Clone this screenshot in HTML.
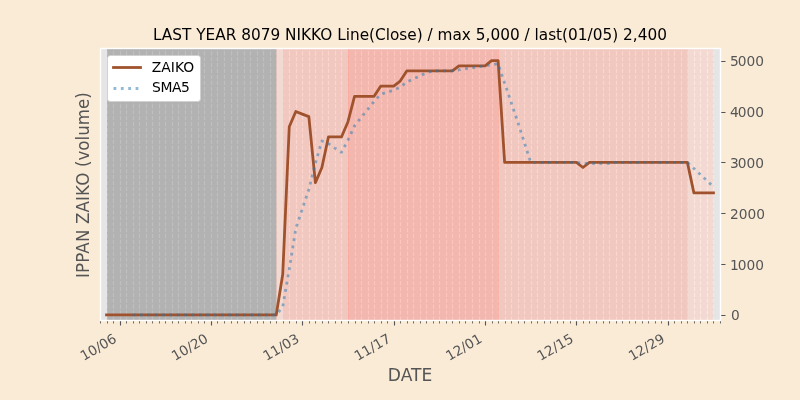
<!DOCTYPE html>
<html lang="en"><head><meta charset="utf-8"><title>LAST YEAR 8079 NIKKO</title>
<style>html,body{margin:0;padding:0;background:#FAEBD7;overflow:hidden}body{width:800px;height:400px}</style></head>
<body>
<svg width="800" height="400" viewBox="0 0 800 400" style="display:block;font-family:'DejaVu Sans','Liberation Sans',sans-serif">
<rect width="800" height="400" fill="#FAEBD7"/>
<rect x="100" y="48" width="620" height="272" fill="#E5E5E5"/>
<path d="M100.5 320.5v3M107.5 320.5v3M113.5 320.5v3M126.5 320.5v3M133.5 320.5v3M139.5 320.5v3M146.5 320.5v3M152.5 320.5v3M159.5 320.5v3M165.5 320.5v3M172.5 320.5v3M178.5 320.5v3M185.5 320.5v3M191.5 320.5v3M198.5 320.5v3M204.5 320.5v3M217.5 320.5v3M224.5 320.5v3M231.5 320.5v3M237.5 320.5v3M244.5 320.5v3M250.5 320.5v3M257.5 320.5v3M263.5 320.5v3M270.5 320.5v3M276.5 320.5v3M283.5 320.5v3M289.5 320.5v3M296.5 320.5v3M309.5 320.5v3M315.5 320.5v3M322.5 320.5v3M328.5 320.5v3M335.5 320.5v3M341.5 320.5v3M348.5 320.5v3M355.5 320.5v3M361.5 320.5v3M368.5 320.5v3M374.5 320.5v3M381.5 320.5v3M387.5 320.5v3M400.5 320.5v3M407.5 320.5v3M413.5 320.5v3M420.5 320.5v3M426.5 320.5v3M433.5 320.5v3M439.5 320.5v3M446.5 320.5v3M452.5 320.5v3M459.5 320.5v3M465.5 320.5v3M472.5 320.5v3M479.5 320.5v3M492.5 320.5v3M498.5 320.5v3M505.5 320.5v3M511.5 320.5v3M518.5 320.5v3M524.5 320.5v3M531.5 320.5v3M537.5 320.5v3M544.5 320.5v3M550.5 320.5v3M557.5 320.5v3M563.5 320.5v3M570.5 320.5v3M583.5 320.5v3M589.5 320.5v3M596.5 320.5v3M603.5 320.5v3M609.5 320.5v3M616.5 320.5v3M622.5 320.5v3M629.5 320.5v3M635.5 320.5v3M642.5 320.5v3M648.5 320.5v3M655.5 320.5v3M661.5 320.5v3M674.5 320.5v3M681.5 320.5v3M687.5 320.5v3M694.5 320.5v3M700.5 320.5v3M707.5 320.5v3M713.5 320.5v3M720.5 320.5v3" stroke="#555555" stroke-width="0.83" fill="none"/>
<path d="M120.5 320.5v5M211.5 320.5v5M302.5 320.5v5M394.5 320.5v5M485.5 320.5v5M576.5 320.5v5M668.5 320.5v5" stroke="#555555" stroke-width="1.11" fill="none"/>
<path d="M720.5 315.5h5M720.5 264.5h5M720.5 213.5h5M720.5 162.5h5M720.5 112.5h5M720.5 61.5h5" stroke="#555555" stroke-width="1.11" fill="none"/>
<path d="M100.5 320.5V48.5M107.5 320.5V48.5M113.5 320.5V48.5M120.5 320.5V48.5M126.5 320.5V48.5M133.5 320.5V48.5M139.5 320.5V48.5M146.5 320.5V48.5M152.5 320.5V48.5M159.5 320.5V48.5M165.5 320.5V48.5M172.5 320.5V48.5M178.5 320.5V48.5M185.5 320.5V48.5M191.5 320.5V48.5M198.5 320.5V48.5M204.5 320.5V48.5M211.5 320.5V48.5M217.5 320.5V48.5M224.5 320.5V48.5M231.5 320.5V48.5M237.5 320.5V48.5M244.5 320.5V48.5M250.5 320.5V48.5M257.5 320.5V48.5M263.5 320.5V48.5M270.5 320.5V48.5M276.5 320.5V48.5M283.5 320.5V48.5M289.5 320.5V48.5M296.5 320.5V48.5M302.5 320.5V48.5M309.5 320.5V48.5M315.5 320.5V48.5M322.5 320.5V48.5M328.5 320.5V48.5M335.5 320.5V48.5M341.5 320.5V48.5M348.5 320.5V48.5M355.5 320.5V48.5M361.5 320.5V48.5M368.5 320.5V48.5M374.5 320.5V48.5M381.5 320.5V48.5M387.5 320.5V48.5M394.5 320.5V48.5M400.5 320.5V48.5M407.5 320.5V48.5M413.5 320.5V48.5M420.5 320.5V48.5M426.5 320.5V48.5M433.5 320.5V48.5M439.5 320.5V48.5M446.5 320.5V48.5M452.5 320.5V48.5M459.5 320.5V48.5M465.5 320.5V48.5M472.5 320.5V48.5M479.5 320.5V48.5M485.5 320.5V48.5M492.5 320.5V48.5M498.5 320.5V48.5M505.5 320.5V48.5M511.5 320.5V48.5M518.5 320.5V48.5M524.5 320.5V48.5M531.5 320.5V48.5M537.5 320.5V48.5M544.5 320.5V48.5M550.5 320.5V48.5M557.5 320.5V48.5M563.5 320.5V48.5M570.5 320.5V48.5M576.5 320.5V48.5M583.5 320.5V48.5M589.5 320.5V48.5M596.5 320.5V48.5M603.5 320.5V48.5M609.5 320.5V48.5M616.5 320.5V48.5M622.5 320.5V48.5M629.5 320.5V48.5M635.5 320.5V48.5M642.5 320.5V48.5M648.5 320.5V48.5M655.5 320.5V48.5M661.5 320.5V48.5M668.5 320.5V48.5M674.5 320.5V48.5M681.5 320.5V48.5M687.5 320.5V48.5M694.5 320.5V48.5M700.5 320.5V48.5M707.5 320.5V48.5M713.5 320.5V48.5M720.5 320.5V48.5" stroke="#fff" stroke-width="1.11" stroke-dasharray="4.11 1.78" fill="none"/>
<rect x="107.5" y="48.5" width="169" height="272" fill="#808080" fill-opacity="0.5" stroke="#808080" stroke-opacity="0.5" stroke-width="0.69"/>
<rect x="276.5" y="48.5" width="7" height="272" fill="#FFCDBD" fill-opacity="0.5" stroke="#FFCDBD" stroke-opacity="0.5" stroke-width="0.69"/>
<rect x="283.5" y="48.5" width="65" height="272" fill="#FDAB9B" fill-opacity="0.5" stroke="#FDAB9B" stroke-opacity="0.5" stroke-width="0.69"/>
<rect x="348.5" y="48.5" width="150" height="272" fill="#FF8B7B" fill-opacity="0.5" stroke="#FF8B7B" stroke-opacity="0.5" stroke-width="0.69"/>
<rect x="498.5" y="48.5" width="189" height="272" fill="#FDAB9B" fill-opacity="0.5" stroke="#FDAB9B" stroke-opacity="0.5" stroke-width="0.69"/>
<rect x="687.5" y="48.5" width="26" height="272" fill="#FFCDBD" fill-opacity="0.5" stroke="#FFCDBD" stroke-opacity="0.5" stroke-width="0.69"/>
<polyline points="106.53,314.92 113.05,314.92 119.58,314.92 126.11,314.92 132.63,314.92 139.16,314.92 145.68,314.92 152.21,314.92 158.74,314.92 165.26,314.92 171.79,314.92 178.32,314.92 184.84,314.92 191.37,314.92 197.89,314.92 204.42,314.92 210.95,314.92 217.47,314.92 224,314.92 230.53,314.92 237.05,314.92 243.58,314.92 250.11,314.92 256.63,314.92 263.16,314.92 269.68,314.92 276.21,314.92 282.74,274.24 289.26,126.8 295.79,111.55 302.32,114.09 308.84,116.64 315.37,182.73 321.89,167.48 328.42,136.97 334.95,136.97 341.47,136.97 348,121.72 354.53,96.3 361.05,96.3 367.58,96.3 374.11,96.3 380.63,86.13 387.16,86.13 393.68,86.13 400.21,81.05 406.74,70.88 413.26,70.88 419.79,70.88 426.32,70.88 432.84,70.88 439.37,70.88 445.89,70.88 452.42,70.88 458.95,65.79 465.47,65.79 472,65.79 478.53,65.79 485.05,65.79 491.58,60.71 498.11,60.71 504.63,162.39 511.16,162.39 517.68,162.39 524.21,162.39 530.74,162.39 537.26,162.39 543.79,162.39 550.32,162.39 556.84,162.39 563.37,162.39 569.89,162.39 576.42,162.39 582.95,167.48 589.47,162.39 596,162.39 602.53,162.39 609.05,162.39 615.58,162.39 622.11,162.39 628.63,162.39 635.16,162.39 641.68,162.39 648.21,162.39 654.74,162.39 661.26,162.39 667.79,162.39 674.32,162.39 680.84,162.39 687.37,162.39 693.89,192.9 700.42,192.9 706.95,192.9 713.47,192.9" fill="none" stroke="#A0522D" stroke-width="2.78" stroke-linejoin="round" stroke-linecap="square"/>
<polyline points="132.63,314.92 139.16,314.92 145.68,314.92 152.21,314.92 158.74,314.92 165.26,314.92 171.79,314.92 178.32,314.92 184.84,314.92 191.37,314.92 197.89,314.92 204.42,314.92 210.95,314.92 217.47,314.92 224,314.92 230.53,314.92 237.05,314.92 243.58,314.92 250.11,314.92 256.63,314.92 263.16,314.92 269.68,314.92 276.21,314.92 282.74,306.78 289.26,269.16 295.79,228.49 302.32,208.91 308.84,189.34 315.37,163.16 321.89,141.04 328.42,143.58 334.95,148.16 341.47,152.22 348,140.02 354.53,125.79 361.05,117.65 367.58,109.52 374.11,101.38 380.63,94.27 387.16,92.23 393.68,90.2 400.21,87.15 406.74,82.06 413.26,79.01 419.79,75.96 426.32,72.91 432.84,70.88 439.37,70.88 445.89,70.88 452.42,70.88 458.95,69.86 465.47,68.84 472,67.83 478.53,66.81 485.05,65.79 491.58,64.78 498.11,63.76 504.63,83.08 511.16,102.4 517.68,121.72 524.21,142.06 530.74,162.39 537.26,162.39 543.79,162.39 550.32,162.39 556.84,162.39 563.37,162.39 569.89,162.39 576.42,162.39 582.95,163.41 589.47,163.41 596,163.41 602.53,163.41 609.05,163.41 615.58,162.39 622.11,162.39 628.63,162.39 635.16,162.39 641.68,162.39 648.21,162.39 654.74,162.39 661.26,162.39 667.79,162.39 674.32,162.39 680.84,162.39 687.37,162.39 693.89,168.49 700.42,174.59 706.95,180.7 713.47,186.8" fill="none" stroke="#1F77B4" stroke-opacity="0.5" stroke-width="2.78" stroke-linejoin="round" stroke-dasharray="2.78 4.58"/>
<rect x="100.5" y="48.5" width="620" height="272" fill="none" stroke="#fff" stroke-width="1.39"/>
<rect x="107.5" y="55.5" width="93" height="46" rx="2.78" fill="#fff" stroke="#ccc" stroke-width="0.69"/>
<path d="M113.5 67.5H140.5" stroke="#A0522D" stroke-width="2.78" stroke-linecap="square"/>
<path d="M113.5 88.5H140.5" stroke="#1F77B4" stroke-opacity="0.5" stroke-width="2.78" stroke-dasharray="2.78 4.58"/>
<text x="151.85" y="71.5" font-size="13.89" fill="#000">ZAIKO</text>
<text x="152.1" y="92.44" font-size="13.89" letter-spacing="-0.45" fill="#000">SMA5</text>
<text transform="translate(409.9 40.3) scale(1 1.025)" font-size="15.322" text-anchor="middle" fill="#000">LAST YEAR 8079 NIKKO Line(Close) / max 5,000 / last(01/05) 2,400</text>
<text x="410.1" y="380.8" font-size="17.1" text-anchor="middle" fill="#555555">DATE</text>
<text transform="translate(88.9 278) rotate(-90) scale(1 1.05)" font-size="16.67" letter-spacing="0.14" fill="#555555">IPPAN ZAIKO</text>
<text transform="translate(88.9 167) rotate(-90) scale(1 1.09)" font-size="16.67" fill="#555555">(volume)</text>
<text x="731.1" y="319.67" font-size="13.75" fill="#555555">0</text>
<text x="729.1" y="269.57" dx="1 -1" font-size="13.75" fill="#555555">1000</text>
<text x="730.1" y="218.73" font-size="13.75" fill="#555555">2000</text>
<text x="729.1" y="167.64" dx="1 -1" font-size="13.75" fill="#555555">3000</text>
<text x="729.1" y="116.55" dx="1 -1" font-size="13.75" fill="#555555">4000</text>
<text x="729.1" y="65.71" dx="1 -1" font-size="13.75" fill="#555555">5000</text>
<text transform="translate(117.58 341.38) rotate(-30)" font-size="13.59" text-anchor="end" fill="#555555">10/06</text>
<text transform="translate(208.95 341.38) rotate(-30)" font-size="13.59" text-anchor="end" fill="#555555">10/20</text>
<text transform="translate(300.32 341.38) rotate(-30)" font-size="13.59" text-anchor="end" fill="#555555">11/03</text>
<text transform="translate(391.68 341.38) rotate(-30)" font-size="13.59" text-anchor="end" fill="#555555">11/17</text>
<text transform="translate(483.05 341.38) rotate(-30)" font-size="13.59" text-anchor="end" fill="#555555">12/01</text>
<text transform="translate(574.42 341.38) rotate(-30)" font-size="13.59" text-anchor="end" fill="#555555">12/15</text>
<text transform="translate(665.79 341.38) rotate(-30)" font-size="13.59" text-anchor="end" fill="#555555">12/29</text>
</svg>
</body></html>
